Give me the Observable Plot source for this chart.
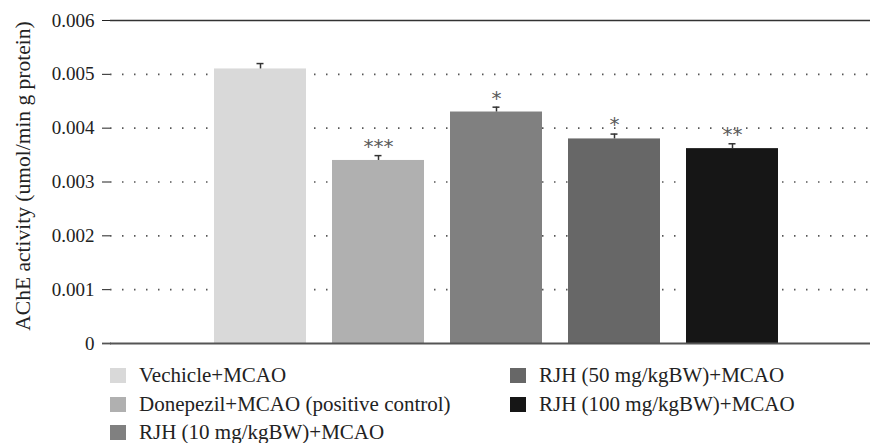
<!DOCTYPE html>
<html>
<head>
<meta charset="utf-8">
<script src="https://cdn.jsdelivr.net/npm/d3@7"></script>
<script src="https://cdn.jsdelivr.net/npm/@observablehq/plot@0.6"></script>
<style>
  html, body { margin: 0; padding: 0; background: #fff; }
  #chart { width: 870px; position: relative; font-family: "Liberation Serif", "Times New Roman", serif; }
  .legend { position: relative; height: 88px; font-family: "Liberation Serif", "Times New Roman", serif; font-size: 21px; color: #222; }
  .item { position: absolute; display: flex; align-items: center; white-space: nowrap; }
  .sw { width: 16px; height: 15px; margin-right: 13px; flex: none; }
</style>
</head>
<body>
<div id="chart"></div>
<script>
const categories = [
  "Vechicle+MCAO",
  "Donepezil+MCAO (positive control)",
  "RJH (10 mg/kgBW)+MCAO",
  "RJH (50 mg/kgBW)+MCAO",
  "RJH (100 mg/kgBW)+MCAO"
];
const values = [0.0051, 0.0034, 0.0043, 0.0038, 0.00362];
const errors = [0.0001, 0.00009, 0.00009, 0.00009, 0.00009];
const stars = ["", "***", "*", "*", "**"];
const colors = ["#d9d9d9", "#b0b0b0", "#808080", "#676767", "#161616"];
const yTicks = [0, 0.001, 0.002, 0.003, 0.004, 0.005, 0.006];
const gridTicks = [0.001, 0.002, 0.003, 0.004, 0.005];
const yLabel = "AChE activity (umol/min g protein)";

const data = categories.map((c, i) => ({cat: c, v: values[i], e: errors[i], s: stars[i]}));
const fmt = d => d === 0 ? "0" : d3.format(".3f")(d);

const plot = Plot.plot({
  width: 870,
  height: 356,
  marginLeft: 110,
  marginRight: 0,
  marginTop: 20,
  marginBottom: 13,
  style: {fontFamily: "'Liberation Serif', 'Times New Roman', serif", fontSize: "19px", color: "#222", background: "#fff"},
  x: {domain: categories, range: [213, 779], paddingInner: 0.224, paddingOuter: 0, axis: null},
  y: {domain: [0, 0.006], label: null, axis: null},
  color: {domain: categories, range: colors},
  marks: [
    Plot.ruleY(gridTicks, {stroke: "#555", strokeWidth: 1.6, strokeDasharray: "1.5,10.5"}),
    Plot.barY(data, {x: "cat", y: "v", fill: "cat"}),
    Plot.ruleX(data, {x: "cat", y1: "v", y2: d => d.v + d.e, stroke: "#333", strokeWidth: 1.5}),
    Plot.tickY(data, {x: "cat", y: d => d.v + d.e, stroke: "#333", strokeWidth: 1.5, inset: 42.5}),
    Plot.text(data, {x: "cat", y: d => d.v + d.e, text: "s", dy: -9, fill: "#5a5a5a", fontSize: 20, fontFamily: "DejaVu Sans, sans-serif"}),
    Plot.axisY({ticks: yTicks, tickSize: 8, tickPadding: 8, tickFormat: fmt, label: null, stroke: "#222", fill: "#222", fontSize: 19}),
    Plot.ruleY([0], {stroke: "#555", strokeWidth: 1.8}),
    Plot.ruleY([0.006], {stroke: "#333", strokeWidth: 1.5}),
    Plot.ruleX([0], {frameAnchor: "left", stroke: "#222", strokeWidth: 1.2})
  ]
});

const svg = d3.select(plot);
svg.selectAll("text")
  .filter(function () { return /^0(\.\d{3})?$/.test(this.textContent); })
  .style("font-size", "19px")
  .style("font-family", "'Liberation Serif', 'Times New Roman', serif");
svg.append("line").attr("x1", 102).attr("x2", 111).attr("y1", 343.5).attr("y2", 343.5).attr("stroke", "#555").attr("stroke-width", 1.8);
svg.append("text")
  .attr("transform", "translate(30,176) rotate(-90)")
  .attr("text-anchor", "middle")
  .style("font-size", "21.5px")
  .style("font-family", "'Liberation Serif', 'Times New Roman', serif")
  .attr("fill", "#222")
  .text(yLabel);

document.getElementById("chart").appendChild(plot);

const legend = document.createElement("div");
legend.className = "legend";
const pos = [[110, 19.5], [110, 48.5], [110, 76.5], [510, 19.5], [510, 48.5]];
categories.forEach((c, i) => {
  const it = document.createElement("div");
  it.className = "item";
  it.style.left = pos[i][0] + "px";
  it.style.top = (pos[i][1] - 14) + "px";
  it.style.height = "28px";
  const sw = document.createElement("span");
  sw.className = "sw";
  sw.style.background = colors[i];
  const t = document.createElement("span");
  t.textContent = c;
  it.appendChild(sw); it.appendChild(t);
  legend.appendChild(it);
});
document.getElementById("chart").appendChild(legend);
</script>
</body>
</html>
